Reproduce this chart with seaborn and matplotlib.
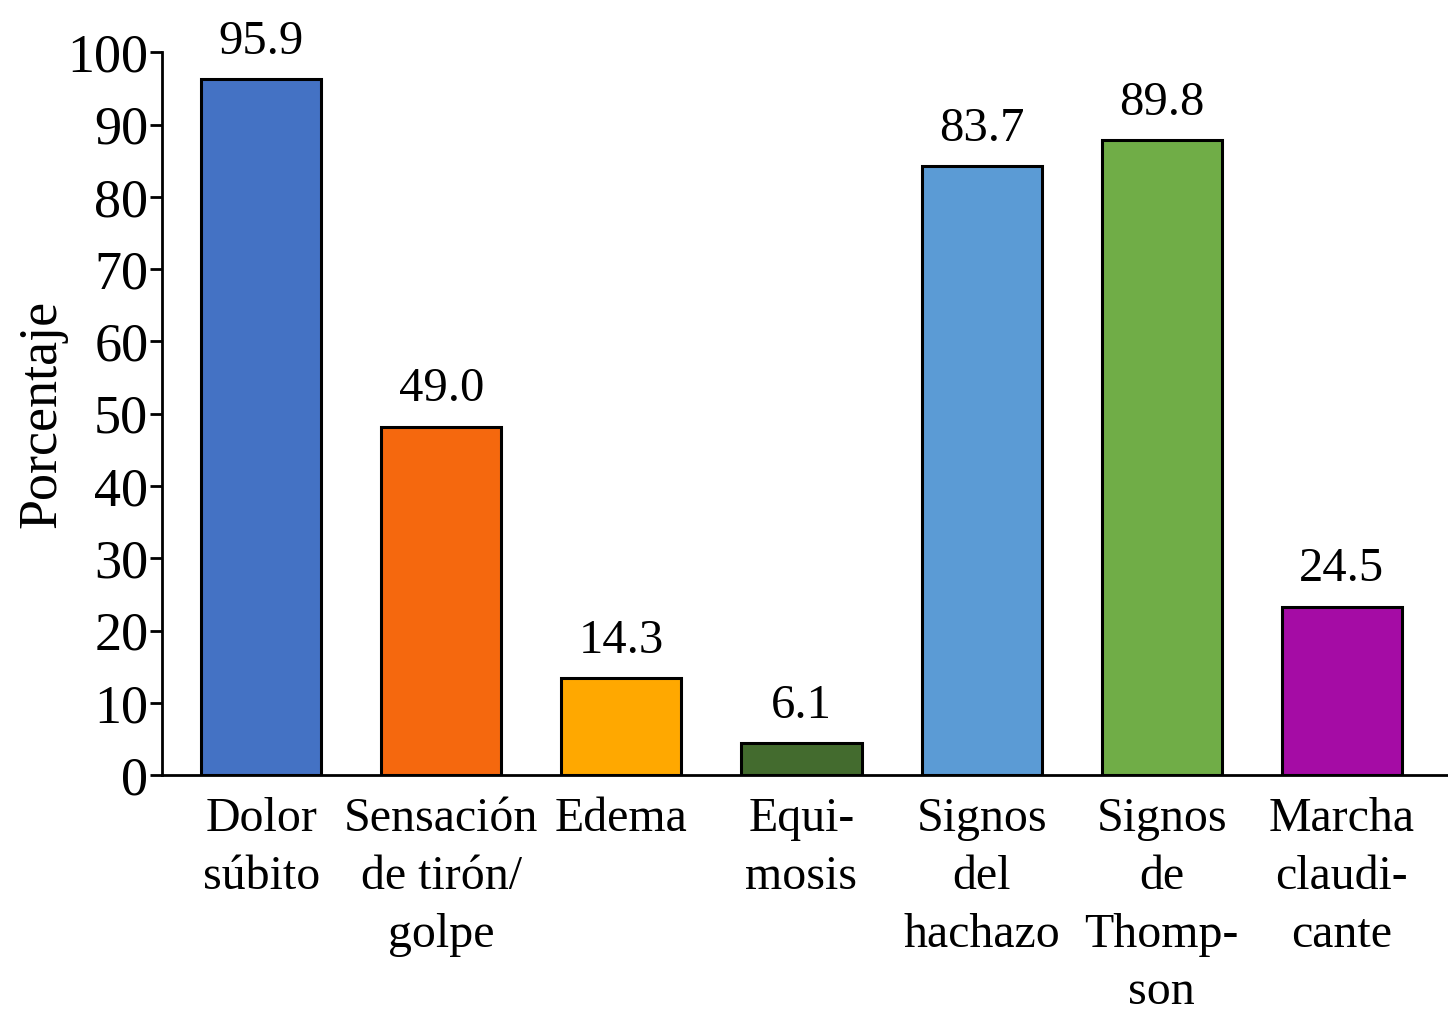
import pandas as pd
import matplotlib.pyplot as plt
import seaborn as sns

# --- DATOS ---
categorias = ["Dolor\nsúbito", "Sensación\nde tirón/\ngolpe", "Edema", "Equi-\nmosis",
              "Signos\ndel\nhachazo", "Signos\nde\nThomp-\nson", "Marcha\nclaudi-\ncante"]
alturas = [96.3, 48.2, 13.4, 4.4, 84.2, 87.8, 23.3]  # altura dibujada de cada barra
etiquetas = ["95.9", "49.0", "14.3", "6.1", "83.7", "89.8", "24.5"]
colores = ["#4472C4", "#F5680E", "#FFA800", "#436B2E", "#5B9BD5", "#70AD47", "#A50CA5"]

df = pd.DataFrame({"cat": categorias, "val": alturas})

sns.set_style("white")
plt.rcParams["font.family"] = ["Liberation Serif", "DejaVu Serif"]
plt.rcParams["text.color"] = "black"
plt.rcParams["axes.labelcolor"] = "black"
plt.rcParams["xtick.color"] = "black"
plt.rcParams["ytick.color"] = "black"
plt.rcParams["axes.edgecolor"] = "black"

fig = plt.figure(figsize=(14.48, 10.24), dpi=100)
ax = fig.add_axes([0.112, 0.243, 0.888, 0.706])

sns.barplot(data=df, x="cat", y="val", hue="cat", palette=colores, legend=False,
            width=0.667, edgecolor="black", linewidth=2.2, saturation=1, ax=ax)

for i, (h, t) in enumerate(zip(alturas, etiquetas)):
    ax.annotate(t, (i, h), xytext=(0, 11), textcoords="offset points",
                ha="center", va="bottom", fontsize=35)

ax.set_ylim(0, 100)
ax.set_xlim(-0.55, 6.59)
ax.set_yticks(range(0, 101, 10))
ax.tick_params(axis="y", labelsize=39, length=9, width=2, direction="out", pad=1, left=True)
ax.tick_params(axis="x", labelsize=34.5, length=0, pad=16)
for lab in ax.get_xticklabels():
    lab.set_linespacing(1.4)
ax.set_xlabel("")
ax.set_ylabel("Porcentaje", fontsize=39, labelpad=0)

sns.despine(ax=ax)
ax.spines["left"].set_linewidth(2)
ax.spines["bottom"].set_linewidth(2)

fig.savefig("out.png", dpi=100)
